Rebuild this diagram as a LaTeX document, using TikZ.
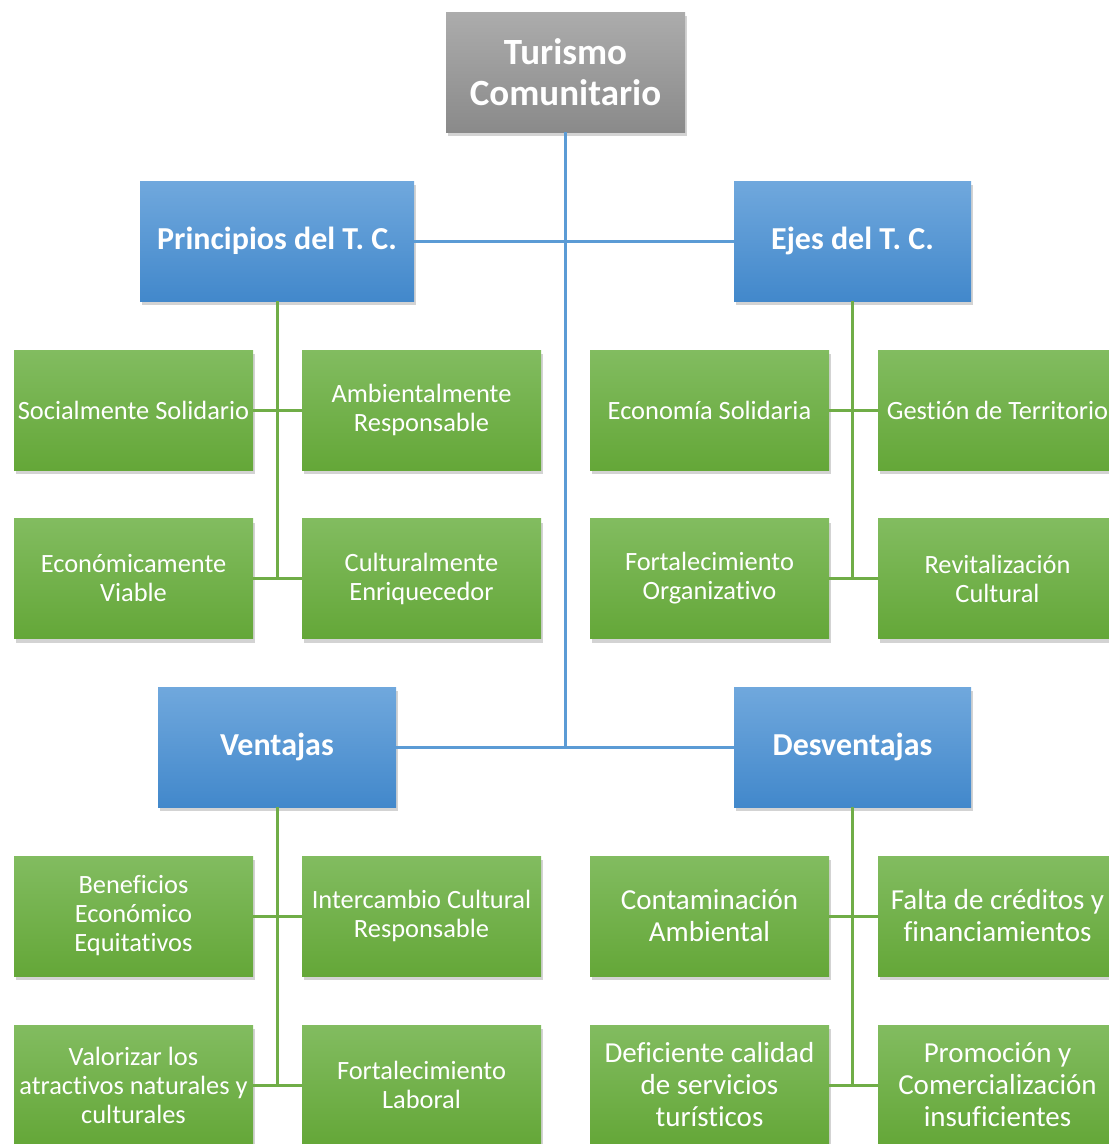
\documentclass[tikz,border=0pt]{standalone}
\usepackage{fontspec}
\setmainfont{Carlito}[Ligatures=NoCommon]
\usetikzlibrary{shadows}
\definecolor{grisA}{RGB}{172,172,172}
\definecolor{grisB}{RGB}{138,138,138}
\definecolor{azulA}{RGB}{112,168,221}
\definecolor{azulB}{RGB}{66,136,203}
\definecolor{verdeA}{RGB}{130,188,96}
\definecolor{verdeB}{RGB}{100,167,56}
\definecolor{lineaAzul}{RGB}{91,155,213}
\definecolor{lineaVerde}{RGB}{112,173,71}
\begin{document}
\begin{tikzpicture}[x=1pt,y=-1pt,
		caja/.style={inner sep=2pt, minimum width=239pt, minimum height=120pt, align=center, text=white,
			drop shadow={shadow xshift=2pt, shadow yshift=-4pt, opacity=0.35}},
		raiz/.style={caja, top color=grisA, bottom color=grisB, font=\bfseries\fontsize{37}{41}\selectfont},
		rama/.style={caja, top color=azulA, bottom color=azulB, font=\bfseries\fontsize{32}{36}\selectfont},
		hoja/.style={caja, top color=verdeA, bottom color=verdeB, font=\fontsize{26.4}{29}\selectfont},
		hojaG/.style={hoja, font=\fontsize{29}{32}\selectfont},
		azul/.style={draw=lineaAzul, line width=3pt},
		verde/.style={draw=lineaVerde, line width=3pt}]
	\useasboundingbox (0,0) rectangle (1109,1144);
	% raiz
	\node[raiz] (tc) at (565.5,72) {Turismo\\Comunitario};
	% ramas
	\node[rama, minimum width=274pt] (pri) at (277,241) {Principios del T. C.};
	\node[rama, minimum width=237pt] (eje) at (852.5,241) {Ejes del T. C.};
	\node[rama, minimum width=238pt] (ven) at (277,747) {Ventajas};
	\node[rama, minimum width=237pt] (des) at (852.5,747) {Desventajas};
	% principios
	\node[hoja] (p1) at (133.5,410) {Socialmente Solidario};
	\node[hoja] (p2) at (421.5,410) {Ambientalmente\\Responsable};
	\node[hoja] (p3) at (133.5,578.5) {Económicamente\\Viable};
	\node[hoja] (p4) at (421.5,578.5) {Culturalmente\\Enriquecedor};
	% ejes
	\node[hoja] (e1) at (709.5,410) {Economía Solidaria};
	\node[hoja] (e2) at (997.5,410) {Gestión de Territorio};
	\node[hoja] (e3) at (709.5,578.5) {Fortalecimiento\\Organizativo};
	\node[hoja] (e4) at (997.5,578.5) {Revitalización\\Cultural};
	% ventajas
	\node[hoja] (v1) at (133.5,916) {Beneficios\\Económico\\Equitativos};
	\node[hoja] (v2) at (421.5,916) {Intercambio Cultural\\Responsable};
	\node[hoja] (v3) at (133.5,1085) {Valorizar los\\atractivos naturales y\\culturales};
	\node[hoja] (v4) at (421.5,1085) {Fortalecimiento\\Laboral};
	% desventajas
	\node[hojaG] (d1) at (709.5,916) {Contaminación\\Ambiental};
	\node[hojaG] (d2) at (997.5,916) {Falta de créditos y\\financiamientos};
	\node[hojaG] (d3) at (709.5,1085) {Deficiente calidad\\de servicios\\turísticos};
	\node[hojaG] (d4) at (997.5,1085) {Promoción y\\Comercialización\\insuficientes};
	% conectores azules
	\draw[azul] (tc.south) -- (tc.south |- ven.east);
	\draw[azul] (pri.east) -- (eje.west);
	\draw[azul] (ven.east) -- (des.west);
	% conectores verdes
	\foreach \r/\a/\b/\c/\d in {pri/p1/p2/p3/p4, eje/e1/e2/e3/e4, ven/v1/v2/v3/v4, des/d1/d2/d3/d4}{
		\draw[verde] (\r.south) -- (\r.south |- \c.east);
		\draw[verde] (\a.east) -- (\b.west);
		\draw[verde] (\c.east) -- (\d.west);
	}
\end{tikzpicture}
\end{document}
